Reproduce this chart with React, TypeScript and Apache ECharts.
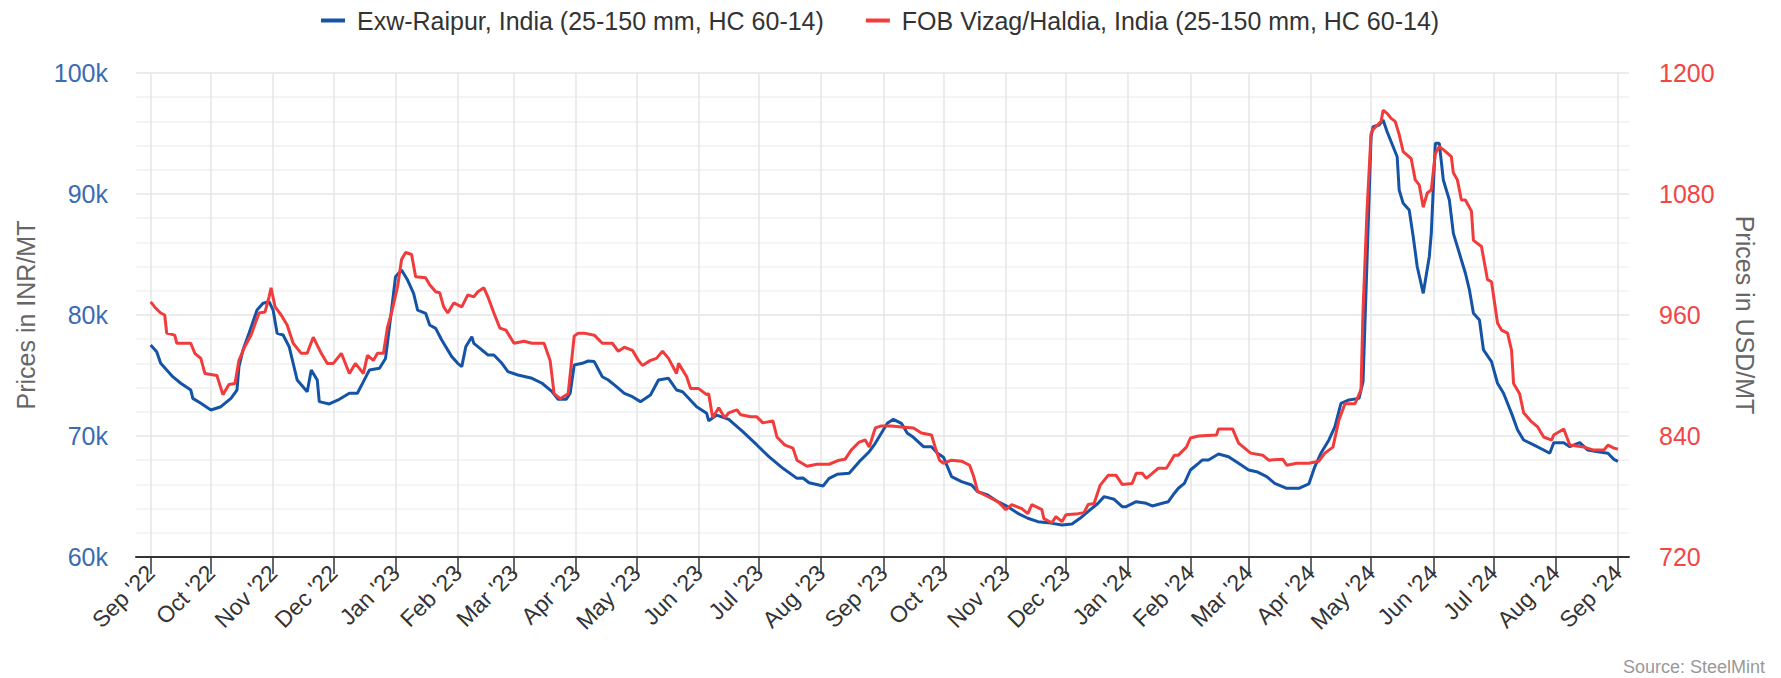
import { useEffect, useRef } from "react";
import * as echarts from "echarts";

const MONTHS = ["Jan", "Feb", "Mar", "Apr", "May", "Jun", "Jul", "Aug", "Sep", "Oct", "Nov", "Dec"];
const DAY = 86400000;
const START = Date.UTC(2022, 8, 1);
const END = Date.UTC(2024, 8, 1);

const legendNames = [
  "Exw-Raipur, India (25-150 mm, HC 60-14)",
  "FOB Vizag/Haldia, India (25-150 mm, HC 60-14)",
];

// days after 1 Sep 2022
const exwDays = [0,3,5,8,11,15,20,21,25,30,35,40,43,44,46,49,53,56,59,61,63,66,69,73,78,80,83,84,89,94,99,103,106,109,114,117,120,122,125,128,131,133,137,139,142,145,150,153,155,157,160,161,165,168,171,175,178,183,190,195,200,203,207,209,211,215,218,221,225,228,231,236,240,244,249,253,258,262,265,272,277,278,282,288,295,302,308,315,322,325,328,335,338,342,348,353,358,361,364,367,370,374,377,380,385,389,392,395,399,404,409,412,417,422,427,432,437,442,447,454,459,463,468,472,475,480,484,486,491,496,499,504,507,510,512,515,518,522,524,527,532,537,542,547,551,556,560,566,572,577,580,583,587,590,593,597,602,604,606,608,609,612,614,616,619,621,622,624,627,629,631,634,637,638,640,642,644,647,649,653,655,657,659,662,664,668,671,674,678,681,684,689,694,697,699,704,707,712,716,721,726,729,731];
const exwInr = [77520,76970,76010,75460,74900,74360,73800,73110,72700,72150,72420,73110,73800,75730,77110,78490,80410,80970,81100,80410,78490,78350,77380,74630,73660,75460,74630,72840,72650,73030,73530,73530,74490,75460,75600,76400,80410,83170,83720,82890,81790,80410,80140,79170,78900,77930,76560,76010,75730,77380,78210,77660,77110,76700,76700,76010,75320,75040,74770,74360,73660,73030,73030,73530,75870,76010,76200,76150,74900,74630,74220,73530,73250,72840,73390,74630,74770,73800,73660,72420,71870,71260,71730,71380,70360,69260,68290,67330,66500,66530,66140,65870,66500,66830,66920,67880,68700,69400,70220,71050,71380,71050,70220,69890,69120,69120,68570,68240,66640,66230,65950,65400,65130,64570,64160,63610,63200,62920,62840,62650,62730,63200,63890,64440,64990,64770,64160,64160,64570,64440,64220,64440,64570,65270,65680,66090,67190,67740,68020,68020,68510,68290,67740,67190,67050,66640,66090,65680,65680,66040,67470,68570,69670,70770,72700,72980,73110,74500,84550,94740,95560,95700,96120,95150,93910,93080,90330,89230,88680,86470,83990,81790,84820,86750,94190,94190,91160,89500,86750,84550,83450,82070,80140,79590,77110,76140,74360,73530,71870,70500,69670,69260,68840,68570,69450,69450,69120,69450,68840,68700,68570,68070,67900];

const fobDays = [0,2,5,7,8,12,13,20,22,25,27,33,36,39,42,44,47,50,54,57,59,60,62,65,68,71,75,78,81,85,88,91,95,99,102,106,108,111,113,116,118,120,123,125,127,130,132,137,139,142,144,146,148,151,155,158,161,163,166,168,171,174,177,181,186,190,196,199,201,204,208,211,213,216,221,225,230,233,236,240,243,245,249,252,255,258,262,263,267,269,273,277,278,280,283,286,288,292,294,299,302,305,310,312,316,320,322,327,332,338,343,346,349,353,356,358,361,364,369,374,380,384,389,391,393,395,399,404,408,410,412,417,422,426,429,434,437,439,444,445,449,451,454,456,462,465,467,470,473,477,481,484,489,491,494,496,499,502,506,507,510,512,516,518,522,531,532,539,542,545,548,554,557,564,566,571,577,582,585,589,592,595,600,603,604,606,608,609,613,614,616,618,620,622,624,628,630,632,634,636,638,640,642,644,648,649,651,653,655,658,659,663,666,668,671,673,676,678,679,682,684,688,691,694,698,699,704,707,714,719,724,726,729,731];
const fobUsd = [973,968,962,960,942,940,932,932,922,917,902,900,881,891,892,915,929,940,962,963,978,987,968,960,950,932,922,922,938,922,912,912,922,902,912,902,920,915,922,922,948,962,988,1015,1022,1020,998,997,990,983,982,968,962,972,968,980,978,983,987,978,962,947,945,932,934,932,932,915,882,877,882,939,942,942,940,932,932,924,928,925,915,910,915,917,924,917,902,912,899,887,887,881,882,858,868,858,863,866,861,859,859,853,855,839,831,828,816,810,812,812,816,817,826,834,836,829,848,850,850,849,848,843,841,828,816,813,816,815,811,800,785,780,775,767,772,768,763,772,767,758,754,760,755,762,763,764,772,773,791,801,801,792,793,803,803,798,803,808,808,811,821,821,829,838,840,841,847,847,833,828,823,821,816,817,811,813,813,815,823,829,856,872,872,886,965,1064,1140,1144,1152,1163,1160,1155,1152,1139,1122,1115,1094,1089,1067,1081,1084,1120,1127,1124,1117,1101,1094,1074,1074,1063,1034,1028,995,993,952,945,942,925,892,882,863,854,849,839,836,841,847,831,829,826,826,831,828,827];

const FONT = "'Liberation Sans', Arial, Helvetica, sans-serif";

export default function App() {
  const ref = useRef<HTMLDivElement>(null);
  useEffect(() => {
    document.body.style.margin = "0";
    const chart = echarts.init(ref.current!, null, { renderer: "svg" });
    const ticks: number[] = [];
    for (let i = 0; i <= 24; i++) ticks.push(Date.UTC(2022, 8 + i, 1));
    const exwData = exwDays.map((d, i) => [START + d * DAY, exwInr[i]]);
    const fobData = fobDays.map((d, i) => [START + d * DAY, fobUsd[i]]);
    chart.setOption({
      animation: false,
      textStyle: { fontFamily: FONT },
      legend: {
        top: 8,
        left: 321,
        padding: 0,
        icon: "rect",
        itemWidth: 24,
        itemHeight: 4,
        itemGap: 42,
        textStyle: { fontSize: 25, color: "#333", fontFamily: FONT, padding: [0, 0, 0, 7] },
        data: legendNames,
      },
      grid: { left: 136, right: 152, top: 73, bottom: 121, containLabel: false, outerBoundsMode: "none" },
      xAxis: {
        type: "value",
        min: START - 7.3 * DAY,
        max: END + 5.5 * DAY,
        axisLine: { show: true, onZero: false, lineStyle: { color: "#333", width: 2 } },
        axisTick: { show: true, length: 17, customValues: ticks, lineStyle: { color: "#333", width: 1.5 } },
        axisLabel: {
          customValues: ticks,
          rotate: 45,
          margin: 12,
          fontSize: 23,
          color: "#333",
          fontFamily: FONT,
          hideOverlap: false,
          showMinLabel: true,
          showMaxLabel: true,
          formatter: (v: number) => {
            const dt = new Date(v);
            return MONTHS[dt.getUTCMonth()] + " '" + String(dt.getUTCFullYear()).slice(2);
          },
        },
        splitLine: { show: true, lineStyle: { color: "#e6e6e6", width: 1.5 } },
      },
      yAxis: [
        {
          type: "value",
          position: "left",
          min: 60000,
          max: 100000,
          interval: 10000,
          name: "Prices in INR/MT",
          nameLocation: "middle",
          nameRotate: 90,
          nameGap: 98,
          nameTextStyle: { fontSize: 25, color: "#666", fontFamily: FONT },
          axisLine: { show: false },
          axisTick: { show: false },
          axisLabel: { formatter: (v: number) => v / 1000 + "k", fontSize: 25, color: "#3a6bb3", margin: 28, fontFamily: FONT },
          splitLine: { show: true, lineStyle: { color: "#e6e6e6", width: 1.5 } },
          minorTick: { show: false, splitNumber: 5 },
          minorSplitLine: { show: true, lineStyle: { color: "#f0f0f0", width: 1.5 } },
        },
        {
          type: "value",
          position: "right",
          min: 720,
          max: 1200,
          interval: 120,
          name: "Prices in USD/MT",
          nameLocation: "middle",
          nameRotate: -90,
          nameGap: 103,
          nameTextStyle: { fontSize: 25, color: "#666", fontFamily: FONT },
          axisLine: { show: false },
          axisTick: { show: false },
          axisLabel: { formatter: (v: number) => String(v), fontSize: 25, color: "#f24545", margin: 30, fontFamily: FONT },
          splitLine: { show: false },
        },
      ],
      series: [
        {
          name: legendNames[0],
          type: "line",
          yAxisIndex: 0,
          showSymbol: false,
          color: "#1453a6",
          lineStyle: { width: 3, color: "#1453a6" },
          data: exwData,
        },
        {
          name: legendNames[1],
          type: "line",
          yAxisIndex: 1,
          showSymbol: false,
          color: "#f23b3b",
          lineStyle: { width: 3, color: "#f23b3b" },
          data: fobData,
        },
      ],
      graphic: [
        {
          type: "text",
          right: 16,
          bottom: 2,
          style: { text: "Source: SteelMint", fontSize: 18, fill: "#999", fontFamily: FONT },
        },
      ],
    });
    return () => chart.dispose();
  }, []);
  return <div ref={ref} style={{ width: 1781, height: 678 }} />;
}
